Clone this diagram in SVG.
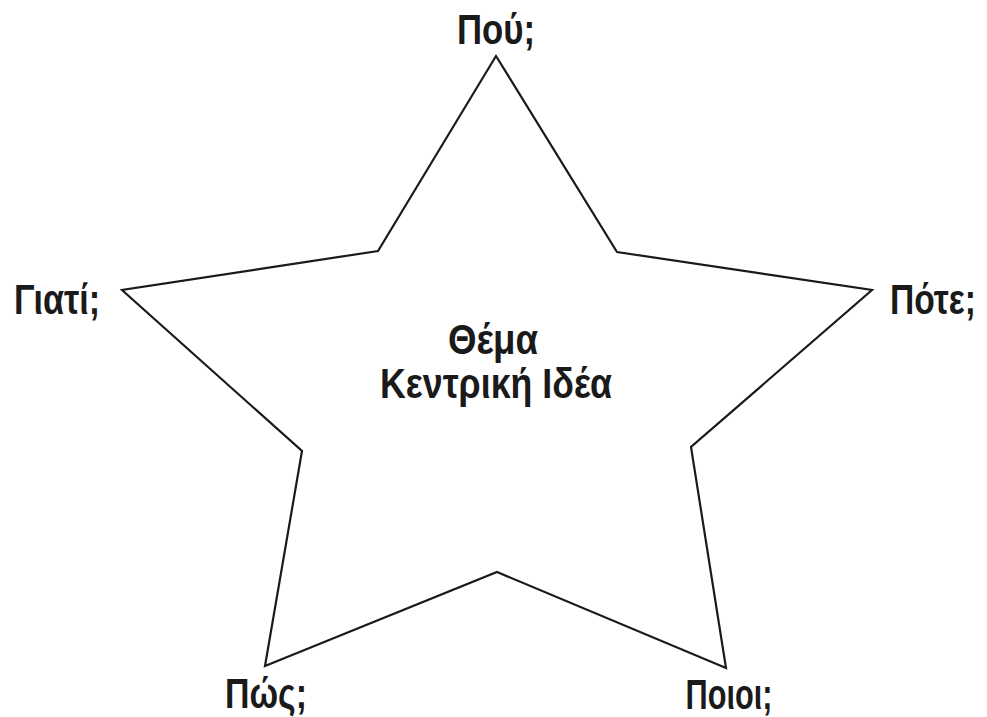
<svg xmlns="http://www.w3.org/2000/svg" width="987" height="717" viewBox="0 0 987 717">
<style>
text{font-family:"Liberation Sans","Roboto",sans-serif;font-weight:bold;font-size:42px;fill:#1a1a1a;text-anchor:middle}
.star{fill:#fff;stroke:#1a1a1a;stroke-width:2.2;stroke-linejoin:miter}
</style>
<rect width="987" height="717" fill="#fff"/>
<g id="star">
<polygon class="star" points="496,56 617,252 872,290 691,447 726,668 497,572 265,666 302,451 122,290 378,251"/>
</g>
<g id="center"><text x="493" y="354" textLength="90" lengthAdjust="spacingAndGlyphs">Θέμα</text><text x="496" y="398" textLength="232" lengthAdjust="spacingAndGlyphs">Κεντρική Ιδέα</text></g>
<g id="top"><text x="496" y="44" textLength="78" lengthAdjust="spacingAndGlyphs">Πού;</text></g>
<g id="left"><text x="57" y="314" textLength="86" lengthAdjust="spacingAndGlyphs">Γιατί;</text></g>
<g id="right"><text x="933" y="314" textLength="86" lengthAdjust="spacingAndGlyphs">Πότε;</text></g>
<g id="bottomleft"><text x="266" y="708" textLength="82" lengthAdjust="spacingAndGlyphs">Πώς;</text></g>
<g id="bottomright"><text x="729" y="709" textLength="87" lengthAdjust="spacingAndGlyphs">Ποιοι;</text></g>
<g id="connectors"/>
</svg>
